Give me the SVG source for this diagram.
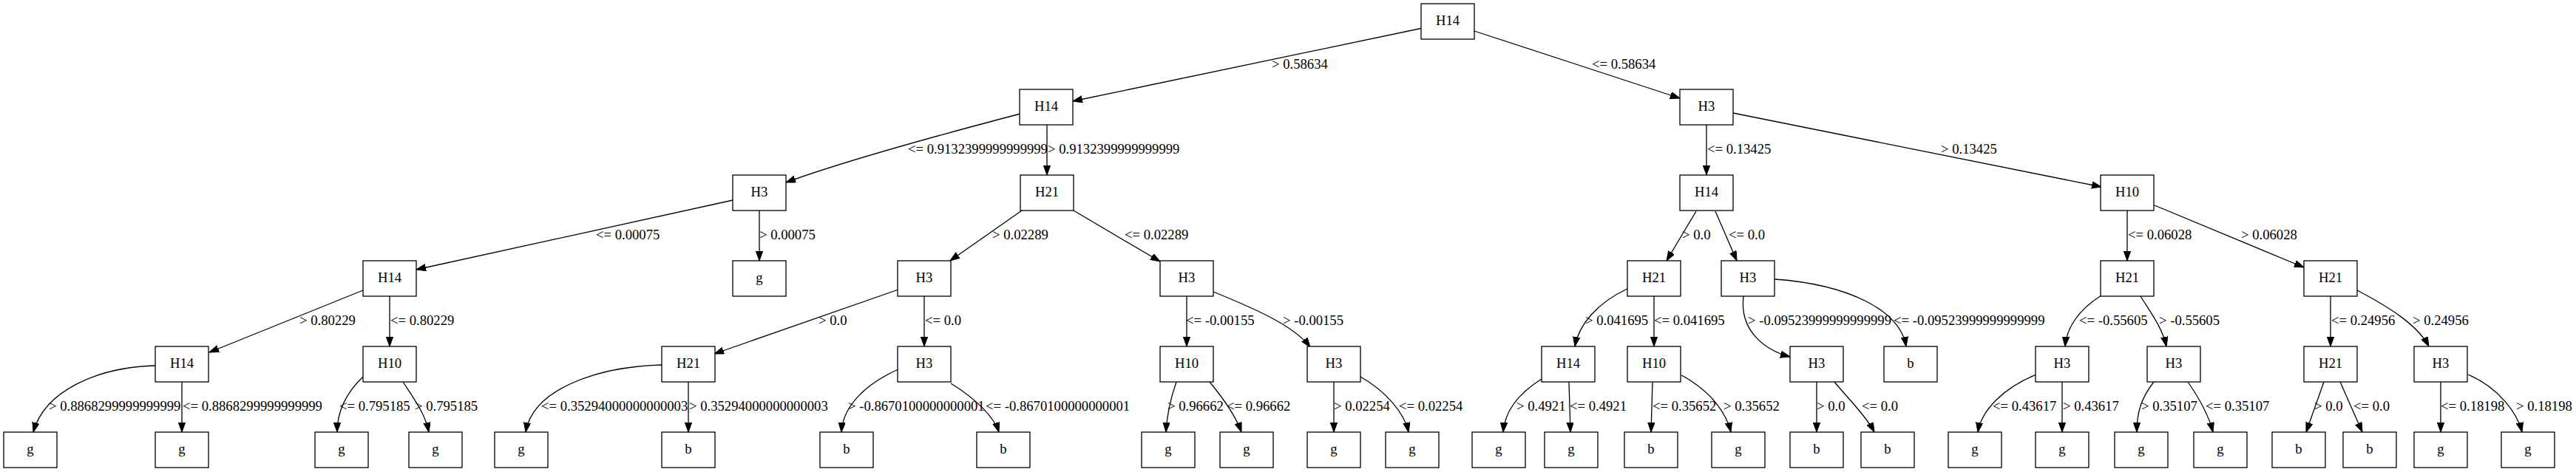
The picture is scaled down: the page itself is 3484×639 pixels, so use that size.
<svg xmlns="http://www.w3.org/2000/svg" width="3484" height="639" viewBox="0 0 3484 639">
<style>
.n rect{fill:#fff;stroke:#000;stroke-width:1.3}
text{font-family:"Liberation Serif","Times New Roman",serif;font-size:18.67px;fill:#000}
.n text{text-anchor:middle}
.e path{fill:none;stroke:#000;stroke-width:1.3;marker-end:url(#ah)}
</style>
<defs>
<marker id="ah" markerUnits="userSpaceOnUse" markerWidth="14" markerHeight="10" refX="13" refY="4.667" orient="auto" viewBox="0 0 14 10">
<path d="M0,0 L13,4.667 L0,9.333 Z" fill="#000" stroke="#000" stroke-width="1"/>
</marker>
</defs>
<rect width="3484" height="639" fill="#fff"/>
<g id="connectors" class="e">
<path d="M1924,38 L1451,137"/>
<path d="M1994,42 L2272,133"/>
<path d="M1380,154 C1300,175 1150,215 1063,247"/>
<path d="M1416,169 L1416,237"/>
<path d="M2308,169 L2308,237"/>
<path d="M2344,153 L2842,253"/>
<path d="M991,271 L563,365"/>
<path d="M1027,285 L1027,353"/>
<path d="M1382,285 L1285,353"/>
<path d="M1452,285 L1569,354"/>
<path d="M2294,286 L2254,353"/>
<path d="M2320,286 L2349,353"/>
<path d="M2877,285 L2877,353"/>
<path d="M2914,278 L3116,362"/>
<path d="M491,393 L283,477"/>
<path d="M527,401 L527,469"/>
<path d="M1215,392 L966,479"/>
<path d="M1250,401 L1250,469"/>
<path d="M1605,401 L1605,469"/>
<path d="M1641,395 C1690,415 1750,440 1772,470"/>
<path d="M2201,391 C2160,410 2135,440 2130,469"/>
<path d="M2237,401 L2237,469"/>
<path d="M2358,401 C2352,450 2390,475 2421,483"/>
<path d="M2400,378 C2500,385 2570,420 2578,469"/>
<path d="M2842,400 C2810,420 2795,445 2793,469"/>
<path d="M2895,401 C2910,425 2925,445 2930,469"/>
<path d="M3152,401 L3152,469"/>
<path d="M3188,393 C3230,415 3270,440 3285,469"/>
<path d="M211,495 C130,497 60,530 45,585"/>
<path d="M246,517 L246,585"/>
<path d="M491,510 C465,535 456,560 456,585"/>
<path d="M545,517 C560,540 575,560 580,585"/>
<path d="M895,494 C800,497 720,530 711,585"/>
<path d="M931,517 L931,585"/>
<path d="M1215,500 C1170,520 1140,550 1138,585"/>
<path d="M1286,519 C1320,540 1345,565 1351,585"/>
<path d="M1591,517 C1583,540 1578,565 1577,585"/>
<path d="M1636,517 C1655,540 1672,565 1679,585"/>
<path d="M1804,517 L1804,585"/>
<path d="M1840,510 C1875,530 1900,560 1905,585"/>
<path d="M2085,513 C2050,535 2035,560 2033,585"/>
<path d="M2122,517 L2124,585"/>
<path d="M2235,517 L2233,585"/>
<path d="M2274,508 C2315,530 2335,560 2341,585"/>
<path d="M2457,517 L2457,585"/>
<path d="M2481,517 C2500,540 2525,565 2535,585"/>
<path d="M2754,507 C2710,525 2680,555 2675,585"/>
<path d="M2789,517 L2789,585"/>
<path d="M2913,517 C2895,540 2890,560 2890,585"/>
<path d="M2959,517 C2975,540 2988,565 2993,585"/>
<path d="M3143,517 L3119,585"/>
<path d="M3165,517 L3195,585"/>
<path d="M3301,517 L3301,585"/>
<path d="M3338,507 C3380,525 3405,560 3411,585"/>
</g>
<g id="edge-labels">
<text x="1720" y="93">&gt; 0.58634</text>
<text x="2153" y="93">&lt;= 0.58634</text>
<text x="1228" y="208">&lt;= 0.9132399999999999</text>
<text x="1417" y="208">&gt; 0.9132399999999999</text>
<text x="2309" y="208">&lt;= 0.13425</text>
<text x="2625" y="208">&gt; 0.13425</text>
<text x="806" y="324">&lt;= 0.00075</text>
<text x="1027" y="324">&gt; 0.00075</text>
<text x="1342" y="324">&gt; 0.02289</text>
<text x="1521" y="324">&lt;= 0.02289</text>
<text x="2275" y="324">&gt; 0.0</text>
<text x="2338" y="324">&lt;= 0.0</text>
<text x="2878" y="324">&lt;= 0.06028</text>
<text x="3031" y="324">&gt; 0.06028</text>
<text x="405" y="440">&gt; 0.80229</text>
<text x="528" y="440">&lt;= 0.80229</text>
<text x="1107" y="440">&gt; 0.0</text>
<text x="1251" y="440">&lt;= 0.0</text>
<text x="1604" y="440">&lt;= -0.00155</text>
<text x="1735" y="440">&gt; -0.00155</text>
<text x="2144" y="440">&gt; 0.041695</text>
<text x="2237" y="440">&lt;= 0.041695</text>
<text x="2364" y="440">&gt; -0.09523999999999999</text>
<text x="2561" y="440">&lt;= -0.09523999999999999</text>
<text x="2812" y="440">&lt;= -0.55605</text>
<text x="2920" y="440">&gt; -0.55605</text>
<text x="3153" y="440">&lt;= 0.24956</text>
<text x="3263" y="440">&gt; 0.24956</text>
<text x="66" y="556">&gt; 0.8868299999999999</text>
<text x="247" y="556">&lt;= 0.8868299999999999</text>
<text x="459" y="556">&lt;= 0.795185</text>
<text x="561" y="556">&gt; 0.795185</text>
<text x="732" y="556">&lt;= 0.35294000000000003</text>
<text x="932" y="556">&gt; 0.35294000000000003</text>
<text x="1147" y="556">&gt; -0.8670100000000001</text>
<text x="1333" y="556">&lt;= -0.8670100000000001</text>
<text x="1579" y="556">&gt; 0.96662</text>
<text x="1659" y="556">&lt;= 0.96662</text>
<text x="1804" y="556">&gt; 0.02254</text>
<text x="1892" y="556">&lt;= 0.02254</text>
<text x="2051" y="556">&gt; 0.4921</text>
<text x="2123" y="556">&lt;= 0.4921</text>
<text x="2235" y="556">&lt;= 0.35652</text>
<text x="2331" y="556">&gt; 0.35652</text>
<text x="2457" y="556">&gt; 0.0</text>
<text x="2518" y="556">&lt;= 0.0</text>
<text x="2695" y="556">&lt;= 0.43617</text>
<text x="2790" y="556">&gt; 0.43617</text>
<text x="2896" y="556">&gt; 0.35107</text>
<text x="2983" y="556">&lt;= 0.35107</text>
<text x="3130" y="556">&gt; 0.0</text>
<text x="3183" y="556">&lt;= 0.0</text>
<text x="3301" y="556">&lt;= 0.18198</text>
<text x="3403" y="556">&gt; 0.18198</text>
</g>
<g id="nodes">
<g id="n0" class="n"><rect x="1922" y="5" width="72" height="48"/><text x="1958" y="34">H14</text></g>
<g id="n1" class="n"><rect x="1379" y="121" width="72" height="48"/><text x="1415" y="150">H14</text></g>
<g id="n2" class="n"><rect x="2272" y="121" width="72" height="48"/><text x="2308" y="150">H3</text></g>
<g id="n3" class="n"><rect x="991" y="237" width="72" height="48"/><text x="1027" y="266">H3</text></g>
<g id="n4" class="n"><rect x="1380" y="237" width="72" height="48"/><text x="1416" y="266">H21</text></g>
<g id="n5" class="n"><rect x="2272" y="237" width="72" height="48"/><text x="2308" y="266">H14</text></g>
<g id="n6" class="n"><rect x="2841" y="237" width="72" height="48"/><text x="2877" y="266">H10</text></g>
<g id="n7" class="n"><rect x="491" y="353" width="72" height="48"/><text x="527" y="382">H14</text></g>
<g id="n8" class="n"><rect x="991" y="353" width="72" height="48"/><text x="1027" y="382">g</text></g>
<g id="n9" class="n"><rect x="1214" y="353" width="72" height="48"/><text x="1250" y="382">H3</text></g>
<g id="n10" class="n"><rect x="1569" y="353" width="72" height="48"/><text x="1605" y="382">H3</text></g>
<g id="n11" class="n"><rect x="2201" y="353" width="72" height="48"/><text x="2237" y="382">H21</text></g>
<g id="n12" class="n"><rect x="2328" y="353" width="72" height="48"/><text x="2364" y="382">H3</text></g>
<g id="n13" class="n"><rect x="2841" y="353" width="72" height="48"/><text x="2877" y="382">H21</text></g>
<g id="n14" class="n"><rect x="3116" y="353" width="72" height="48"/><text x="3152" y="382">H21</text></g>
<g id="n15" class="n"><rect x="210" y="469" width="72" height="48"/><text x="246" y="498">H14</text></g>
<g id="n16" class="n"><rect x="491" y="469" width="72" height="48"/><text x="527" y="498">H10</text></g>
<g id="n17" class="n"><rect x="895" y="469" width="72" height="48"/><text x="931" y="498">H21</text></g>
<g id="n18" class="n"><rect x="1214" y="469" width="72" height="48"/><text x="1250" y="498">H3</text></g>
<g id="n19" class="n"><rect x="1569" y="469" width="72" height="48"/><text x="1605" y="498">H10</text></g>
<g id="n20" class="n"><rect x="1768" y="469" width="72" height="48"/><text x="1804" y="498">H3</text></g>
<g id="n21" class="n"><rect x="2085" y="469" width="72" height="48"/><text x="2121" y="498">H14</text></g>
<g id="n22" class="n"><rect x="2201" y="469" width="72" height="48"/><text x="2237" y="498">H10</text></g>
<g id="n23" class="n"><rect x="2421" y="469" width="72" height="48"/><text x="2457" y="498">H3</text></g>
<g id="n24" class="n"><rect x="2548" y="469" width="72" height="48"/><text x="2584" y="498">b</text></g>
<g id="n25" class="n"><rect x="2753" y="469" width="72" height="48"/><text x="2789" y="498">H3</text></g>
<g id="n26" class="n"><rect x="2904" y="469" width="72" height="48"/><text x="2940" y="498">H3</text></g>
<g id="n27" class="n"><rect x="3116" y="469" width="72" height="48"/><text x="3152" y="498">H21</text></g>
<g id="n28" class="n"><rect x="3265" y="469" width="72" height="48"/><text x="3301" y="498">H3</text></g>
<g id="l0" class="n"><rect x="5" y="585" width="72" height="48"/><text x="41" y="614">g</text></g>
<g id="l1" class="n"><rect x="210" y="585" width="72" height="48"/><text x="246" y="614">g</text></g>
<g id="l2" class="n"><rect x="426" y="585" width="72" height="48"/><text x="462" y="614">g</text></g>
<g id="l3" class="n"><rect x="553" y="585" width="72" height="48"/><text x="589" y="614">g</text></g>
<g id="l4" class="n"><rect x="669" y="585" width="72" height="48"/><text x="705" y="614">g</text></g>
<g id="l5" class="n"><rect x="895" y="585" width="72" height="48"/><text x="931" y="614">b</text></g>
<g id="l6" class="n"><rect x="1109" y="585" width="72" height="48"/><text x="1145" y="614">b</text></g>
<g id="l7" class="n"><rect x="1321" y="585" width="72" height="48"/><text x="1357" y="614">b</text></g>
<g id="l8" class="n"><rect x="1544" y="585" width="72" height="48"/><text x="1580" y="614">g</text></g>
<g id="l9" class="n"><rect x="1650" y="585" width="72" height="48"/><text x="1686" y="614">g</text></g>
<g id="l10" class="n"><rect x="1768" y="585" width="72" height="48"/><text x="1804" y="614">g</text></g>
<g id="l11" class="n"><rect x="1874" y="585" width="72" height="48"/><text x="1910" y="614">g</text></g>
<g id="l12" class="n"><rect x="1991" y="585" width="72" height="48"/><text x="2027" y="614">g</text></g>
<g id="l13" class="n"><rect x="2089" y="585" width="72" height="48"/><text x="2125" y="614">g</text></g>
<g id="l14" class="n"><rect x="2197" y="585" width="72" height="48"/><text x="2233" y="614">b</text></g>
<g id="l15" class="n"><rect x="2315" y="585" width="72" height="48"/><text x="2351" y="614">g</text></g>
<g id="l16" class="n"><rect x="2421" y="585" width="72" height="48"/><text x="2457" y="614">b</text></g>
<g id="l17" class="n"><rect x="2517" y="585" width="72" height="48"/><text x="2553" y="614">b</text></g>
<g id="l18" class="n"><rect x="2635" y="585" width="72" height="48"/><text x="2671" y="614">g</text></g>
<g id="l19" class="n"><rect x="2753" y="585" width="72" height="48"/><text x="2789" y="614">g</text></g>
<g id="l20" class="n"><rect x="2860" y="585" width="72" height="48"/><text x="2896" y="614">g</text></g>
<g id="l21" class="n"><rect x="2967" y="585" width="72" height="48"/><text x="3003" y="614">g</text></g>
<g id="l22" class="n"><rect x="3073" y="585" width="72" height="48"/><text x="3109" y="614">b</text></g>
<g id="l23" class="n"><rect x="3169" y="585" width="72" height="48"/><text x="3205" y="614">b</text></g>
<g id="l24" class="n"><rect x="3265" y="585" width="72" height="48"/><text x="3301" y="614">g</text></g>
<g id="l25" class="n"><rect x="3383" y="585" width="72" height="48"/><text x="3419" y="614">g</text></g>
</g>
</svg>
